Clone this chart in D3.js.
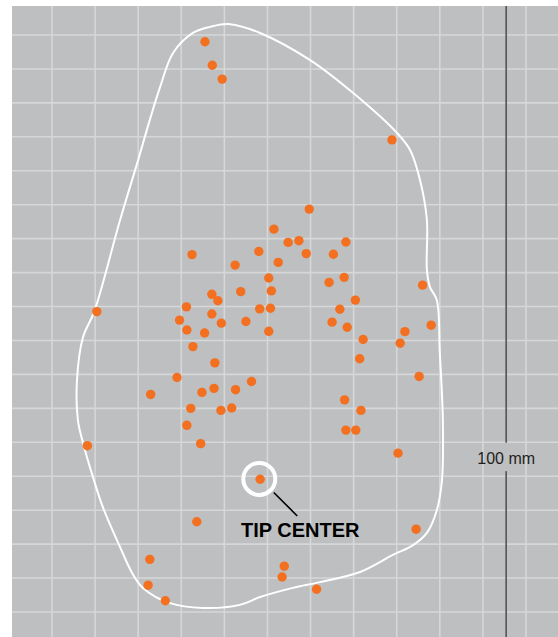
<!DOCTYPE html>
<html>
<head>
<meta charset="utf-8">
<script src="https://cdn.jsdelivr.net/npm/d3@7"></script>
<style>
    body { margin: 0; background: #fff; }
    svg { display: block; font-family: Helvetica, Arial, "Liberation Sans", sans-serif; }
</style>
</head>
<body>
<svg width="558" height="637"></svg>
<script>
// positions in grid cells (x across, y down)
const shotX = [3.55, 3.72, 3.95, 7.89, 5.97, 5.15, 5.48, 5.73, 6.82, 3.25, 4.80, 5.90, 6.53, 4.25, 5.25,
    5.03, 6.78, 6.43, 8.60, 3.71, 4.38, 5.09, 3.85, 7.04, 3.12, 4.82, 5.07, 6.68, 1.04, 2.96,
    3.71, 3.93, 4.50, 6.50, 6.85, 8.80, 3.13, 3.54, 5.03, 8.19, 7.22, 8.08, 3.27, 3.78, 7.14,
    2.90, 4.63, 8.52, 2.29, 3.48, 3.76, 4.26, 3.22, 3.92, 4.17, 6.79, 7.17, 3.13, 6.82, 7.05,
    0.82, 3.45, 8.03, 4.83, 3.36, 8.45, 2.27, 2.23, 2.63, 5.39, 5.34, 6.14];
const shotY = [0.20, 0.89, 1.30, 3.09, 5.13, 5.72, 6.11, 6.06, 6.10, 6.47, 6.38, 6.44, 6.46, 6.78, 6.70,
    7.16, 7.14, 7.29, 7.37, 7.64, 7.56, 7.54, 7.83, 7.81, 8.01, 8.07, 8.05, 8.08, 8.15, 8.40,
    8.22, 8.49, 8.44, 8.46, 8.61, 8.55, 8.69, 8.78, 8.73, 8.74, 8.97, 9.08, 9.18, 9.66, 9.54,
    10.09, 10.21, 10.06, 10.59, 10.53, 10.41, 10.45, 11.00, 11.06, 10.99, 10.75, 11.06, 11.50, 11.64, 11.64,
    12.10, 12.04, 12.32, 13.09, 14.34, 14.56, 15.45, 16.21, 16.67, 15.65, 15.97, 16.33];

// outline of the spread
const outlineX = [4.13, 4.83, 5.99, 6.99, 8.01, 8.31, 8.54, 8.70, 8.70, 8.77, 8.93, 9.00, 9.07, 9.05,
    8.93, 8.70, 8.38, 7.91, 7.15, 6.22, 5.59, 4.83, 4.36, 3.50, 2.74, 2.11, 1.86, 1.58, 1.18,
    0.95, 0.72, 0.60, 0.58, 0.72, 0.98, 1.58, 2.00, 2.27, 2.51, 2.81, 3.27, 3.67];
const outlineY = [-0.32, -0.06, 0.74, 1.71, 2.89, 3.39, 4.27, 5.45, 6.92, 7.42, 7.81, 9.37, 11.34, 13.11,
    14.00, 14.67, 15.03, 15.32, 15.82, 16.12, 16.29, 16.56, 16.79, 16.88, 16.74, 16.29, 15.85, 15.09, 13.91,
    13.02, 12.02, 11.34, 10.17, 8.90, 8.15, 5.45, 3.68, 2.50, 1.53, 0.53, -0.06, -0.24];

const tipCenter = [4.81, 13.08];
const tipLabel = "TIP CENTER";
const scaleLabel = "100 mm";
const scaleBarX = 10.54;
const gridCols = d3.range(0, 12);
const gridRows = d3.range(0, 18);

const svg = d3.select("svg");
const width = 558, height = 637;

const x = d3.scaleLinear().domain([0, 11]).range([52, 526]);
const y = d3.scaleLinear().domain([0, 17]).range([35, 612]);

svg.append("rect")
    .attr("x", 12).attr("y", 6)
    .attr("width", width - 12).attr("height", height - 6)
    .attr("fill", "#bebfc1");

const grid = svg.append("g").attr("stroke", "#d6d7d8").attr("stroke-width", 1.6);
grid.selectAll("line.v")
    .data(gridCols)
    .enter().append("line")
    .attr("class", "v")
    .attr("x1", d => x(d)).attr("x2", d => x(d))
    .attr("y1", 6).attr("y2", height);
grid.selectAll("line.h")
    .data(gridRows)
    .enter().append("line")
    .attr("class", "h")
    .attr("x1", 12).attr("x2", width)
    .attr("y1", d => y(d)).attr("y2", d => y(d));

// scale bar with label gap
const labelY = 12.64;
svg.append("line")
    .attr("x1", x(scaleBarX)).attr("x2", x(scaleBarX))
    .attr("y1", 6).attr("y2", y(12.01))
    .attr("stroke", "#58595b").attr("stroke-width", 1.7);
svg.append("line")
    .attr("x1", x(scaleBarX)).attr("x2", x(scaleBarX))
    .attr("y1", y(12.85)).attr("y2", height)
    .attr("stroke", "#58595b").attr("stroke-width", 1.7);
svg.append("text")
    .attr("x", x(scaleBarX)).attr("y", y(labelY))
    .attr("text-anchor", "middle")
    .attr("font-size", 16)
    .attr("fill", "#231f20")
    .text(scaleLabel);

const outline = outlineX.map((d, i) => [d, outlineY[i]]);
svg.append("path")
    .datum(outline)
    .attr("fill", "none")
    .attr("stroke", "#fff")
    .attr("stroke-width", 2)
    .attr("d", d3.line()
        .x(d => x(d[0]))
        .y(d => y(d[1]))
        .curve(d3.curveCatmullRomClosed.alpha(0.5)));

const shots = shotX.map((d, i) => ({ x: d, y: shotY[i] }));
svg.append("g")
    .selectAll("circle")
    .data(shots)
    .enter().append("circle")
    .attr("cx", d => x(d.x))
    .attr("cy", d => y(d.y))
    .attr("r", 4.7)
    .attr("fill", "#f37021");

// tip center callout
const tcx = x(tipCenter[0]), tcy = y(tipCenter[1]);
svg.append("circle")
    .attr("cx", tcx).attr("cy", tcy)
    .attr("r", 16)
    .attr("fill", "none")
    .attr("stroke", "#fff")
    .attr("stroke-width", 4);
svg.append("line")
    .attr("x1", tcx + 14.5).attr("y1", tcy + 13.5)
    .attr("x2", tcx + 38).attr("y2", tcy + 37)
    .attr("stroke", "#000").attr("stroke-width", 1.6);
svg.append("text")
    .attr("x", tcx + 41).attr("y", tcy + 58)
    .attr("text-anchor", "middle")
    .attr("font-size", 20)
    .attr("font-weight", "bold")
    .attr("fill", "#000")
    .text(tipLabel);
</script>
</body>
</html>
